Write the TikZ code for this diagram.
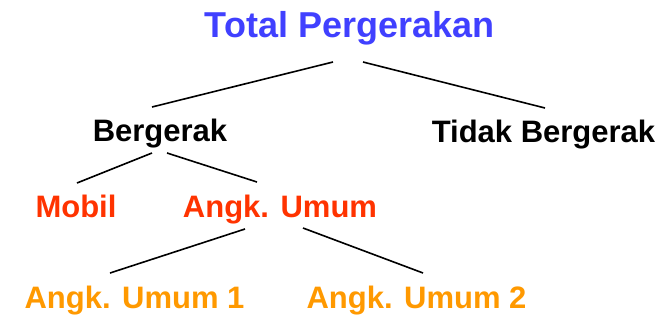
\documentclass[tikz,border=0pt]{standalone}
\usepackage{fontspec}
\setmainfont{Liberation Sans}
\definecolor{rootblue}{HTML}{4040FF}
\definecolor{redorange}{HTML}{FF3300}
\definecolor{leaforange}{HTML}{FF9900}
\begin{document}
\begin{tikzpicture}[x=1pt,y=-1pt,
  lbl/.style={anchor=base,inner sep=0pt,font=\bfseries\fontsize{31}{36}\selectfont},
  link/.style={line width=1.6pt,black}]
\useasboundingbox (0,0) rectangle (672,333);
% nodes
\node[lbl,font=\bfseries\fontsize{36}{40}\selectfont,text=rootblue] (root) at (349.5,37) {Total Pergerakan};
\node[lbl] (berg) at (160,141) {Bergerak};
\node[lbl] (tidak) at (543.5,142) {Tidak Bergerak};
\node[lbl,text=redorange] (mobil) at (76,217) {Mobil};
\node[lbl,text=redorange] (angk) at (280,217) {Angk. Umum};
\node[lbl,text=leaforange] (au1) at (134.5,308) {Angk. Umum 1};
\node[lbl,text=leaforange] (au2) at (416.5,308) {Angk. Umum 2};
% connector end points
\coordinate (rL) at (333,62);   \coordinate (bT) at (152,107);
\coordinate (rR) at (363,62);   \coordinate (tT) at (545,108);
\coordinate (bL) at (152,153);  \coordinate (mT) at (77,183);
\coordinate (bR) at (167,153);  \coordinate (aT) at (257,182);
\coordinate (aL) at (245,229);  \coordinate (u1T) at (110,273);
\coordinate (aR) at (303,228);  \coordinate (u2T) at (423,273);
% connectors
\draw[link] (rL) -- (bT);
\draw[link] (rR) -- (tT);
\draw[link] (bL) -- (mT);
\draw[link] (bR) -- (aT);
\draw[link] (aL) -- (u1T);
\draw[link] (aR) -- (u2T);
\end{tikzpicture}
\end{document}
